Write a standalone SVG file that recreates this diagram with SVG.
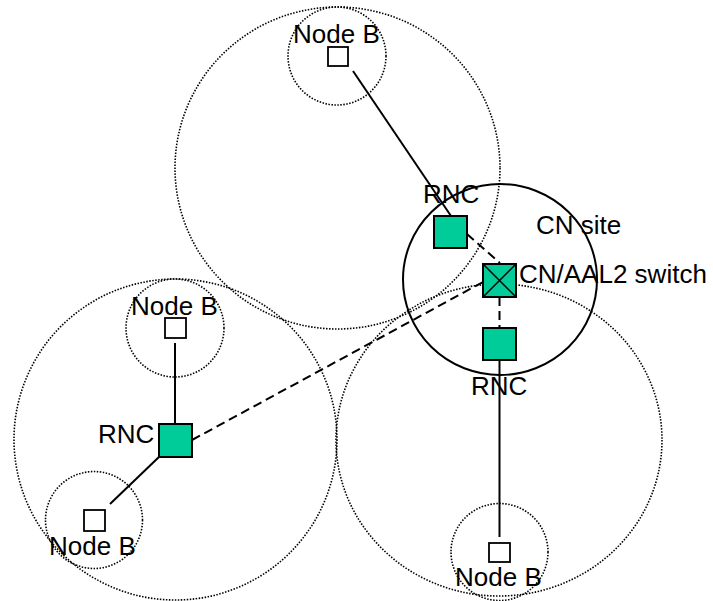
<svg xmlns="http://www.w3.org/2000/svg" width="713" height="601" viewBox="0 0 713 601">
<style>
.area{fill:none;stroke:#000;stroke-width:1.6;stroke-dasharray:1.5 1.5}
.site{fill:none;stroke:#000;stroke-width:2}
.link{stroke:#000;stroke-width:2;fill:none}
.dash{stroke:#000;stroke-width:2;fill:none;stroke-dasharray:9 5}
.rnc{fill:#00CC99;stroke:#000;stroke-width:2}
.nb{fill:#fff;stroke:#000;stroke-width:1.8}
text{font-family:"Liberation Sans",Arial,sans-serif;font-size:26px;fill:#000}
</style>
<rect width="713" height="601" fill="#fff"/>
<g id="areas">
<ellipse class="area" cx="337.5" cy="168" rx="162.5" ry="161"/>
<ellipse class="area" cx="175.5" cy="439.5" rx="161.5" ry="160.5"/>
<ellipse class="area" cx="499" cy="440" rx="163" ry="156"/>
<circle class="area" cx="337" cy="56" r="49"/>
<circle class="area" cx="175" cy="328" r="49"/>
<circle class="area" cx="94" cy="520" r="48.5"/>
<circle class="area" cx="499.5" cy="552" r="48.5"/>
</g>
<g id="cn-site">
<ellipse class="site" cx="500" cy="279.5" rx="97" ry="95.5"/>
<text x="536" y="234">CN site</text>
</g>
<g id="connectors">
<line class="link" x1="353" y1="71" x2="451" y2="216"/>
<line class="link" x1="175" y1="343" x2="175" y2="424"/>
<line class="link" x1="160" y1="456" x2="110" y2="504"/>
<line class="link" x1="499.5" y1="360" x2="499.5" y2="537"/>
<line class="dash" x1="467" y1="234" x2="500" y2="263"/>
<line class="dash" x1="192" y1="440" x2="483" y2="282"/>
<line class="dash" x1="499.5" y1="297" x2="499.5" y2="328"/>
</g>
<g id="nodeb-top">
<rect class="nb" x="328" y="47" width="20" height="19"/>
<text x="293" y="43">Node B</text>
</g>
<g id="rnc-upper">
<rect class="rnc" x="434" y="216" width="33" height="32"/>
<text x="423" y="203">RNC</text>
</g>
<g id="switch">
<rect class="rnc" x="483" y="264" width="33" height="33"/>
<path d="M483 264 L516 297 M516 264 L483 297" stroke="#000" stroke-width="1.5"/>
<text x="519" y="283">CN/AAL2 switch</text>
</g>
<g id="rnc-lower">
<rect class="rnc" x="483" y="328" width="33" height="32"/>
<text x="471" y="395">RNC</text>
</g>
<g id="nodeb-bottom">
<rect class="nb" x="489" y="543" width="21" height="19"/>
<text x="455" y="586">Node B</text>
</g>
<g id="nodeb-left-top">
<rect class="nb" x="165" y="318" width="21" height="20"/>
<text x="131" y="315">Node B</text>
</g>
<g id="rnc-left">
<rect class="rnc" x="159" y="424" width="33" height="33"/>
<text x="98" y="443">RNC</text>
</g>
<g id="nodeb-left-bottom">
<rect class="nb" x="84" y="510" width="21" height="21"/>
<text x="49" y="555">Node B</text>
</g>
</svg>
